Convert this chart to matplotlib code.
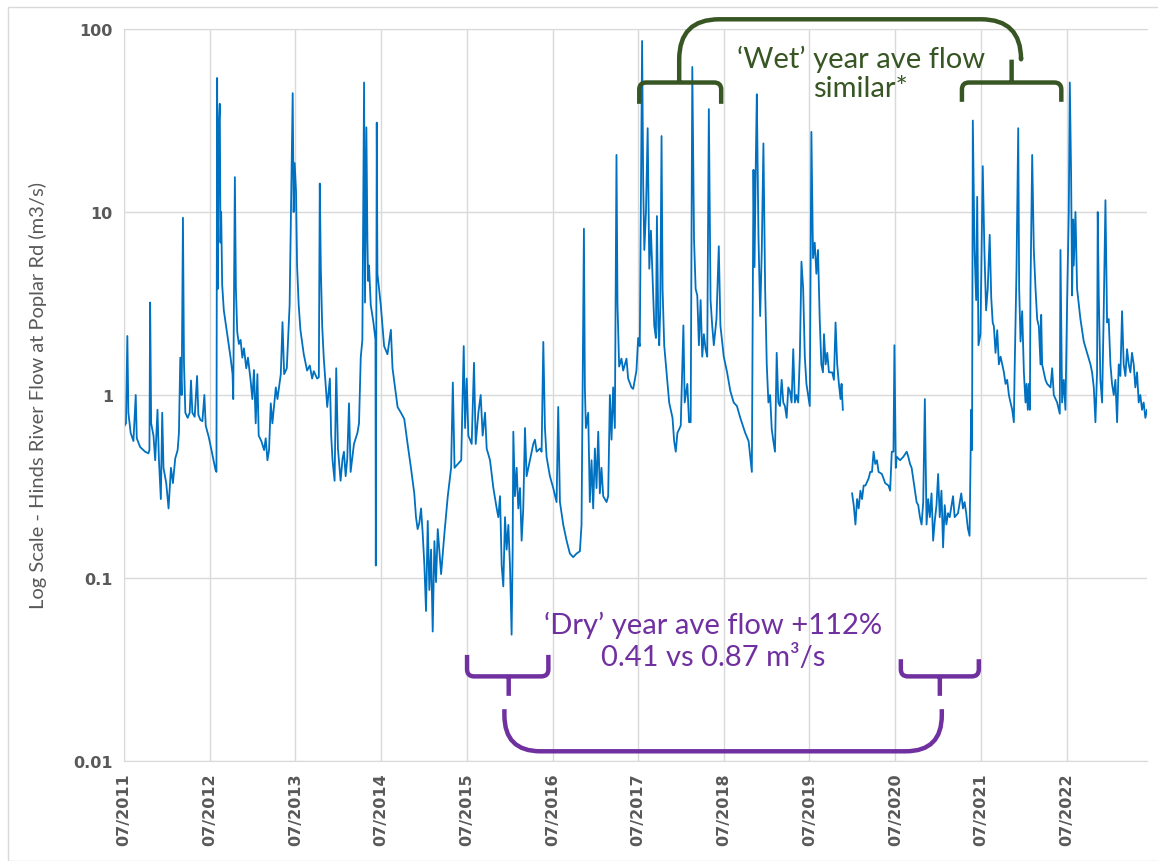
import numpy as np
import pandas as pd
import matplotlib
matplotlib.use("Agg")
import matplotlib.pyplot as plt
import matplotlib.dates as mdates
from matplotlib.path import Path
from matplotlib.patches import PathPatch, Rectangle
from matplotlib.transforms import IdentityTransform

# Daily flow at Poplar Rd, sampled as (decimal year, m3/s) per water year (Jul-Jun)
wy2012 = [(2011.500, 0.67), (2011.523, 0.70), (2011.539, 2.1), (2011.551, 0.80), (2011.578, 0.62),
          (2011.610, 0.56), (2011.637, 1.0), (2011.649, 0.58), (2011.688, 0.52), (2011.746, 0.49),
          (2011.785, 0.48), (2011.797, 0.50), (2011.805, 3.2), (2011.817, 0.70), (2011.844, 0.60),
          (2011.864, 0.44), (2011.891, 0.83), (2011.907, 0.45), (2011.930, 0.27), (2011.946, 0.80),
          (2011.961, 0.40), (2011.993, 0.33), (2012.020, 0.24), (2012.048, 0.40), (2012.071, 0.33),
          (2012.098, 0.45), (2012.126, 0.50), (2012.141, 0.62), (2012.157, 1.6), (2012.173, 1.0),
          (2012.188, 9.3), (2012.200, 1.5), (2012.216, 0.80), (2012.243, 0.75), (2012.267, 0.80),
          (2012.282, 1.2), (2012.298, 0.80), (2012.325, 0.76), (2012.353, 1.27), (2012.368, 0.78),
          (2012.392, 0.73), (2012.415, 0.72), (2012.438, 1.0), (2012.454, 0.68), (2012.489, 0.59)]
wy2013 = [(2012.529, 0.48), (2012.568, 0.39), (2012.579, 0.38), (2012.587, 54), (2012.595, 3.8),
          (2012.607, 30), (2012.618, 39), (2012.626, 6.8), (2012.634, 10), (2012.646, 4.0),
          (2012.665, 2.9), (2012.705, 2.15), (2012.744, 1.6), (2012.767, 1.3), (2012.775, 0.95),
          (2012.794, 15.5), (2012.806, 3.8), (2012.822, 2.2), (2012.841, 1.9), (2012.861, 2.0),
          (2012.881, 1.6), (2012.900, 1.8), (2012.927, 1.4), (2012.947, 1.6), (2012.978, 1.2),
          (2012.998, 0.95), (2013.017, 1.37), (2013.037, 0.70), (2013.057, 1.3), (2013.072, 0.60),
          (2013.103, 0.56), (2013.135, 0.50), (2013.154, 0.58), (2013.174, 0.44), (2013.193, 0.50),
          (2013.213, 0.90), (2013.232, 0.70), (2013.272, 1.1), (2013.291, 0.95), (2013.330, 1.3),
          (2013.350, 2.5), (2013.369, 1.3), (2013.400, 1.4), (2013.433, 3.1), (2013.469, 44.6),
          (2013.480, 10), (2013.492, 18.5)]
wy2014 = [(2013.508, 12.9), (2013.520, 5.1), (2013.539, 3.1), (2013.559, 2.27), (2013.598, 1.67),
          (2013.637, 1.36), (2013.668, 1.45), (2013.696, 1.23), (2013.715, 1.35), (2013.754, 1.23),
          (2013.774, 1.25), (2013.785, 14.3), (2013.797, 5.0), (2013.813, 2.4), (2013.832, 1.58),
          (2013.872, 0.86), (2013.903, 1.23), (2013.918, 0.60), (2013.934, 0.44), (2013.958, 0.34),
          (2013.977, 1.4), (2013.997, 0.51), (2014.028, 0.34), (2014.051, 0.45), (2014.067, 0.49),
          (2014.087, 0.36), (2014.106, 0.45), (2014.126, 0.90), (2014.145, 0.38), (2014.184, 0.54),
          (2014.224, 0.62), (2014.243, 0.70), (2014.263, 1.6), (2014.282, 2.0), (2014.302, 51),
          (2014.313, 3.2), (2014.329, 29), (2014.341, 7.0), (2014.349, 4.2), (2014.360, 5.1),
          (2014.380, 3.1), (2014.411, 2.5), (2014.435, 2.0), (2014.439, 0.117), (2014.446, 5.0),
          (2014.450, 30.8), (2014.458, 4.6), (2014.497, 3.1)]
wy2015 = [(2014.536, 1.85), (2014.575, 1.67), (2014.615, 2.27), (2014.634, 1.4), (2014.693, 0.86),
          (2014.732, 0.80), (2014.771, 0.74), (2014.810, 0.54), (2014.849, 0.40), (2014.888, 0.29),
          (2014.908, 0.215), (2014.927, 0.185), (2014.947, 0.20), (2014.967, 0.24), (2014.986, 0.176),
          (2015.006, 0.117), (2015.025, 0.066), (2015.045, 0.205), (2015.064, 0.086), (2015.084, 0.143),
          (2015.103, 0.051), (2015.123, 0.159), (2015.142, 0.095), (2015.162, 0.185), (2015.201, 0.105),
          (2015.240, 0.176), (2015.279, 0.28), (2015.318, 0.40), (2015.338, 1.17), (2015.358, 0.40),
          (2015.397, 0.42), (2015.436, 0.44), (2015.465, 1.85), (2015.481, 0.66)]
wy2016 = [(2015.500, 1.23), (2015.519, 0.60), (2015.558, 0.54), (2015.585, 1.5), (2015.605, 0.54),
          (2015.636, 0.80), (2015.663, 1.0), (2015.686, 0.60), (2015.714, 0.80), (2015.733, 0.51),
          (2015.772, 0.44), (2015.811, 0.31), (2015.850, 0.24), (2015.869, 0.215), (2015.889, 0.28),
          (2015.908, 0.117), (2015.927, 0.09), (2015.947, 0.215), (2015.966, 0.143), (2015.986, 0.195),
          (2016.005, 0.117), (2016.024, 0.049), (2016.036, 0.14), (2016.044, 0.63), (2016.063, 0.28),
          (2016.083, 0.40), (2016.102, 0.24), (2016.122, 0.31), (2016.141, 0.16), (2016.160, 0.24),
          (2016.180, 0.66), (2016.199, 0.36), (2016.238, 0.44), (2016.277, 0.54), (2016.296, 0.57),
          (2016.316, 0.49), (2016.355, 0.51), (2016.374, 0.49), (2016.394, 1.95), (2016.413, 0.66),
          (2016.432, 0.46), (2016.471, 0.36)]
wy2017 = [(2016.510, 0.31), (2016.549, 0.26), (2016.568, 0.86), (2016.588, 0.26), (2016.627, 0.195),
          (2016.666, 0.16), (2016.704, 0.136), (2016.743, 0.13), (2016.782, 0.136), (2016.821, 0.14),
          (2016.840, 0.195), (2016.868, 8.1), (2016.879, 1.1), (2016.891, 0.66), (2016.918, 0.80),
          (2016.937, 0.26), (2016.957, 0.44), (2016.976, 0.24), (2016.996, 0.51), (2017.015, 0.31),
          (2017.035, 0.63), (2017.054, 0.29), (2017.073, 0.40), (2017.093, 0.28), (2017.132, 0.26),
          (2017.151, 0.28), (2017.171, 1.0), (2017.190, 0.57), (2017.209, 1.1), (2017.229, 0.66),
          (2017.248, 20.5), (2017.260, 3.1), (2017.279, 1.43), (2017.306, 1.58), (2017.326, 1.36),
          (2017.365, 1.58), (2017.384, 1.23), (2017.423, 1.1), (2017.443, 1.08), (2017.481, 1.36),
          (2017.501, 2.05), (2017.520, 1.85)]
wy2018 = [(2017.547, 86), (2017.560, 14), (2017.573, 6.2), (2017.592, 10), (2017.612, 28.7),
          (2017.631, 4.9), (2017.650, 7.9), (2017.689, 2.4), (2017.708, 2.05), (2017.720, 9.5),
          (2017.736, 2.4), (2017.747, 1.87), (2017.759, 3.0), (2017.774, 26), (2017.786, 3.8),
          (2017.805, 1.87), (2017.824, 1.47), (2017.863, 0.91), (2017.902, 0.75), (2017.921, 0.56),
          (2017.940, 0.49), (2017.959, 0.62), (2017.998, 0.68), (2018.029, 2.4), (2018.044, 0.91),
          (2018.075, 1.15), (2018.095, 0.71), (2018.114, 0.71), (2018.133, 62), (2018.153, 7.1),
          (2018.172, 3.8), (2018.191, 3.5), (2018.210, 1.87), (2018.230, 3.3), (2018.249, 1.62),
          (2018.268, 2.15), (2018.288, 1.78), (2018.307, 1.62), (2018.326, 36.5), (2018.346, 3.3),
          (2018.365, 2.4), (2018.384, 1.87), (2018.415, 2.6), (2018.442, 6.5), (2018.461, 2.4)]
wy2019 = [(2018.500, 1.62), (2018.539, 1.33), (2018.577, 1.05), (2018.616, 0.91), (2018.654, 0.87),
          (2018.693, 0.75), (2018.751, 0.62), (2018.790, 0.56), (2018.828, 0.38), (2018.847, 17),
          (2018.859, 5.0), (2018.875, 20), (2018.886, 44), (2018.905, 7.5), (2018.925, 2.7),
          (2018.944, 6.2), (2018.963, 23.7), (2018.983, 3.8), (2019.002, 1.47), (2019.021, 0.91),
          (2019.041, 1.0), (2019.060, 0.65), (2019.079, 0.56), (2019.098, 0.49), (2019.118, 1.7),
          (2019.137, 0.91), (2019.156, 0.87), (2019.176, 1.21), (2019.195, 0.91), (2019.214, 0.87),
          (2019.234, 0.75), (2019.253, 1.1), (2019.272, 1.05), (2019.292, 0.91), (2019.311, 1.78),
          (2019.330, 0.91), (2019.349, 1.0), (2019.369, 0.91), (2019.388, 1.62), (2019.407, 5.35),
          (2019.427, 3.8), (2019.446, 1.62), (2019.465, 1.15), (2019.504, 0.87)]
# recorder gap over Dec 2019 is kept as a NaN break
wy2020 = [(2019.523, 27.4), (2019.542, 5.6), (2019.562, 6.8), (2019.581, 4.6), (2019.600, 6.2),
          (2019.620, 2.6), (2019.639, 1.47), (2019.658, 1.33), (2019.670, 2.15), (2019.689, 1.47),
          (2019.708, 1.7), (2019.728, 1.33), (2019.766, 1.33), (2019.786, 1.21), (2019.805, 2.49),
          (2019.824, 1.47), (2019.844, 1.15), (2019.863, 0.95), (2019.875, 1.15), (2019.890, 0.83),
          (2019.940, np.nan),
          (2019.998, 0.29), (2020.017, 0.25), (2020.037, 0.196), (2020.056, 0.27), (2020.075, 0.24),
          (2020.095, 0.30), (2020.114, 0.27), (2020.133, 0.32), (2020.153, 0.32), (2020.191, 0.35),
          (2020.210, 0.38), (2020.230, 0.38), (2020.249, 0.49), (2020.268, 0.42), (2020.288, 0.44),
          (2020.307, 0.38), (2020.346, 0.37), (2020.365, 0.35), (2020.384, 0.33), (2020.423, 0.32),
          (2020.442, 0.30), (2020.461, 0.49), (2020.481, 0.49)]
wy2021 = [(2020.492, 1.87), (2020.508, 0.40), (2020.519, 0.46), (2020.558, 0.44), (2020.597, 0.46),
          (2020.635, 0.49), (2020.654, 0.46), (2020.674, 0.42), (2020.693, 0.40), (2020.732, 0.30),
          (2020.751, 0.26), (2020.770, 0.25), (2020.790, 0.215), (2020.809, 0.196), (2020.828, 0.26),
          (2020.847, 0.95), (2020.859, 0.35), (2020.867, 0.196), (2020.886, 0.27), (2020.905, 0.215),
          (2020.925, 0.29), (2020.944, 0.16), (2020.963, 0.205), (2020.983, 0.25), (2021.002, 0.37),
          (2021.021, 0.215), (2021.041, 0.30), (2021.060, 0.147), (2021.079, 0.25), (2021.098, 0.196),
          (2021.118, 0.226), (2021.137, 0.215), (2021.176, 0.28), (2021.195, 0.215), (2021.234, 0.226),
          (2021.272, 0.29), (2021.292, 0.24), (2021.311, 0.26), (2021.330, 0.226), (2021.349, 0.187),
          (2021.369, 0.17), (2021.388, 0.83), (2021.398, 0.50), (2021.407, 31.6), (2021.427, 6.2),
          (2021.446, 3.3), (2021.458, 12.1), (2021.473, 1.87), (2021.496, 2.15)]
wy2022 = [(2021.523, 17.8), (2021.542, 6.2), (2021.562, 2.9), (2021.581, 3.8), (2021.604, 7.5),
          (2021.622, 3.4), (2021.639, 2.49), (2021.653, 2.37), (2021.672, 1.7), (2021.692, 2.26),
          (2021.711, 1.47), (2021.731, 1.62), (2021.770, 1.33), (2021.789, 1.15), (2021.808, 1.21),
          (2021.828, 1.0), (2021.847, 0.91), (2021.867, 0.83), (2021.886, 0.71), (2021.894, 1.27),
          (2021.917, 4.9), (2021.937, 28.7), (2021.948, 3.8), (2021.964, 1.96), (2021.983, 2.87),
          (2022.003, 1.33), (2022.022, 0.91), (2022.034, 1.15), (2022.049, 0.83), (2022.061, 1.15),
          (2022.073, 0.83), (2022.080, 3.8), (2022.100, 20.5), (2022.119, 6.2), (2022.139, 3.8),
          (2022.158, 2.6), (2022.178, 2.37), (2022.197, 1.47), (2022.205, 2.74), (2022.216, 1.47),
          (2022.236, 1.33), (2022.255, 1.21), (2022.275, 1.15), (2022.314, 1.1), (2022.333, 1.4),
          (2022.352, 1.0), (2022.391, 0.91), (2022.422, 0.79), (2022.430, 6.2), (2022.449, 0.91),
          (2022.469, 1.21), (2022.488, 0.83)]
wy2023 = [(2022.508, 3.3), (2022.527, 10), (2022.539, 51), (2022.554, 16.2), (2022.566, 3.5),
          (2022.578, 9.1), (2022.585, 5.1), (2022.605, 10), (2022.624, 3.8), (2022.663, 2.6),
          (2022.702, 1.96), (2022.741, 1.7), (2022.780, 1.47), (2022.799, 1.33), (2022.819, 1.1),
          (2022.838, 0.71), (2022.857, 1.33), (2022.865, 10), (2022.877, 3.5), (2022.896, 1.21),
          (2022.916, 0.91), (2022.935, 2.87), (2022.955, 11.6), (2022.974, 2.49), (2022.993, 2.6),
          (2023.013, 1.47), (2023.032, 1.15), (2023.052, 1.0), (2023.071, 1.21), (2023.091, 0.71),
          (2023.110, 1.47), (2023.129, 1.27), (2023.149, 2.87), (2023.168, 1.47), (2023.188, 1.27),
          (2023.207, 1.78), (2023.227, 1.47), (2023.246, 1.33), (2023.265, 1.7), (2023.285, 1.47),
          (2023.304, 1.1), (2023.324, 1.33), (2023.343, 0.91), (2023.362, 1.0), (2023.382, 0.83),
          (2023.401, 0.91), (2023.421, 0.75), (2023.440, 0.83)]

tick_years = list(range(2011, 2023))
ytick_vals = [0.01, 0.1, 1, 10, 100]
ytick_labels = ["0.01", "0.1", "1", "10", "100"]

wet_text = "\u2018Wet\u2019 year ave flow\nsimilar*"
dry_text = "\u2018Dry\u2019 year ave flow +112%\n0.41 vs 0.87 m\u00b3/s"

BLUE = "#0070C0"
GREEN = "#375623"
PURPLE = "#7030A0"
GREY = "#595959"
GRID = "#D9D9D9"


def yr_to_date(y):
    return pd.Timestamp("2011-07-01") + pd.Timedelta(days=(y - 2011.5) * 365.25)


records = wy2012 + wy2013 + wy2014 + wy2015 + wy2016 + wy2017 + wy2018 + \
          wy2019 + wy2020 + wy2021 + wy2022 + wy2023
dates = [yr_to_date(r[0]) for r in records]
flow = np.array([r[1] for r in records], dtype=float)

fig = plt.figure(figsize=(11.58, 8.62), dpi=100)
ax = fig.add_axes([124 / 1158, 100 / 862, 1023 / 1158, 732 / 862])

ax.plot(dates, flow, color=BLUE, lw=1.3)

ax.set_yscale("log")
ax.set_ylim(0.01, 100)
ax.set_xlim(dates[0], dates[-1])
ax.yaxis.set_major_locator(matplotlib.ticker.FixedLocator(ytick_vals))
ax.yaxis.set_minor_locator(matplotlib.ticker.NullLocator())
ax.set_yticklabels(ytick_labels)
ax.set_xticks([pd.Timestamp(f"{y}-07-01") for y in tick_years])
ax.xaxis.set_major_formatter(mdates.DateFormatter("%m/%Y"))

for lab in ax.get_xticklabels():
    lab.set_rotation(90)
for lab in ax.get_xticklabels() + ax.get_yticklabels():
    lab.set_fontweight("bold")
    lab.set_color(GREY)
    lab.set_fontsize(11.5)
ax.tick_params(length=0, pad=8)

ax.grid(True, color=GRID, lw=1)
ax.set_axisbelow(True)
for side in ["top", "left", "bottom"]:
    ax.spines[side].set_color(GRID)
ax.spines["right"].set_visible(False)

ax.set_ylabel("Log Scale - Hinds River Flow at Poplar Rd (m3/s)", family="Lato",
              fontsize=14.5, color=GREY)
ax.yaxis.set_label_coords(-0.075, 0.5)

# annotation text
ax.text(yr_to_date(2020.10), 57.5, wet_text, color=GREEN, family="Lato", fontsize=21,
        ha="center", va="center", linespacing=1.15, multialignment="center")
ax.text(yr_to_date(2018.38), 0.0458, dry_text, color=PURPLE, family="Lato", fontsize=21,
        ha="center", va="center", linespacing=1.3, multialignment="center")

fig.canvas.draw()


def px(yr, val):
    return ax.transData.transform((mdates.date2num(yr_to_date(yr)), val))


def add_path(verts, codes, color):
    patch = PathPatch(Path(verts, codes), transform=IdentityTransform(), fill=False,
                      edgecolor=color, lw=3.2, capstyle="butt", joinstyle="round")
    fig.add_artist(patch)


def bracket(x0, x1, xc, y, y_end, y_tip, color, r=7):
    # square bracket with rounded corners and a centre tick
    a0 = px(x0, y)
    a1 = px(x1, y)
    e = px(x0, y_end)[1]
    t = px(xc, y_tip)[1]
    c = px(xc, y)[0]
    yb = a0[1]
    s = 1 if e > yb else -1
    M, L, C = Path.MOVETO, Path.LINETO, Path.CURVE3
    verts = [(a0[0], e), (a0[0], yb + s * r), (a0[0], yb), (a0[0] + r, yb),
             (a1[0] - r, yb), (a1[0], yb), (a1[0], yb + s * r), (a1[0], e),
             (c, yb), (c, t)]
    codes = [M, L, C, C, L, C, C, L, M, L]
    add_path(verts, codes, color)


def long_brace(xa, xb, ya, yb_end, y_mid, color, R=38):
    # long rounded U linking two brackets
    pa = px(xa, ya)
    pb = px(xb, yb_end)
    ym = px(xa, y_mid)[1]
    s = 1 if pa[1] > ym else -1
    M, L, C = Path.MOVETO, Path.LINETO, Path.CURVE3
    verts = [tuple(pa), (pa[0], ym + s * R), (pa[0], ym), (pa[0] + R, ym),
             (pb[0] - R, ym), (pb[0], ym), (pb[0], ym + s * R), tuple(pb)]
    codes = [M, L, C, C, L, C, C, L]
    add_path(verts, codes, color)


# dry years: 2015/16 vs 2020/21
bracket(2015.504, 2016.453, 2015.990, 0.029, 0.038, 0.0227, PURPLE)
bracket(2020.567, 2021.477, 2021.022, 0.029, 0.036, 0.0227, PURPLE)
long_brace(2015.940, 2021.045, 0.0192, 0.0192, 0.0113, PURPLE, R=36)

# wet years: 2017/18 vs 2021/22
bracket(2017.514, 2018.470, 2017.980, 51, 39, 66, GREEN)
bracket(2021.280, 2022.440, 2021.860, 51, 40, 68, GREEN)
long_brace(2017.980, 2021.970, 66, 70, 113, GREEN, R=40)

# chart area border
fig.add_artist(Rectangle((8, 0), 1158, 854, transform=IdentityTransform(), fill=False,
                         edgecolor=GRID, lw=1))

fig.savefig("out.png", dpi=100)
